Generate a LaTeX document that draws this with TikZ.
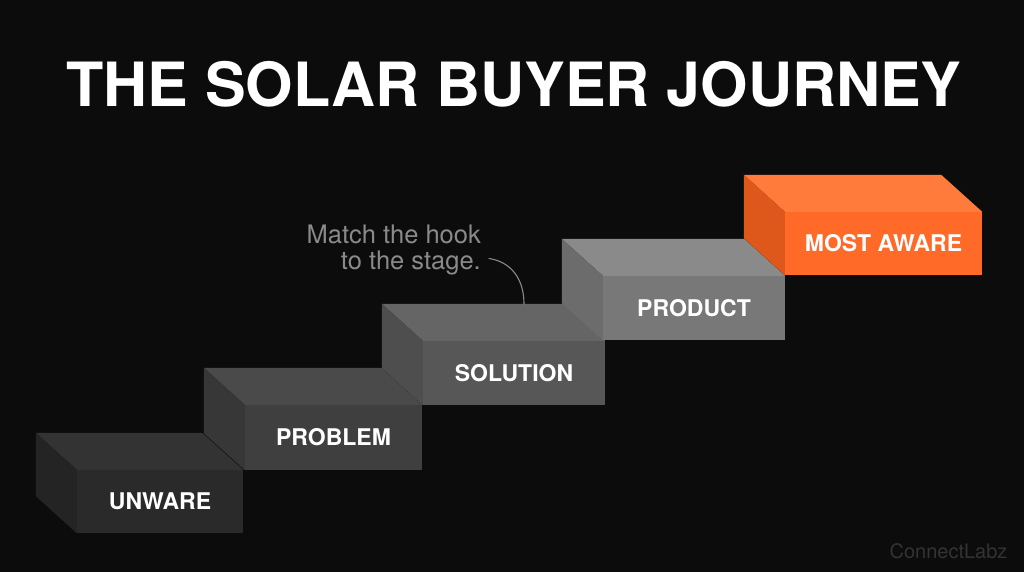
\documentclass[tikz,border=0pt]{standalone}
\usepackage{fontspec}
\setmainfont{TeX Gyre Heros}
\usetikzlibrary{calc}
\definecolor{bg}{HTML}{0C0C0C}
\definecolor{f1}{HTML}{2A2A2A}\definecolor{t1}{HTML}{333333}\definecolor{s1}{HTML}{242424}
\definecolor{f2}{HTML}{3F3F3F}\definecolor{t2}{HTML}{4A4A4A}\definecolor{s2}{HTML}{373737}
\definecolor{f3}{HTML}{575757}\definecolor{t3}{HTML}{656565}\definecolor{s3}{HTML}{4E4E4E}
\definecolor{f4}{HTML}{787878}\definecolor{t4}{HTML}{8A8A8A}\definecolor{s4}{HTML}{6C6C6C}
\definecolor{f5}{HTML}{FF6A28}\definecolor{t5}{HTML}{FF7B3C}\definecolor{s5}{HTML}{DE581C}
\definecolor{notec}{HTML}{8A8A8A}
\definecolor{markc}{HTML}{333333}
\tikzset{
  face/.style={inner sep=0pt, draw=none, text=white,
    font=\fontsize{23}{23}\selectfont\bfseries},
  notetext/.style={inner sep=0pt, anchor=base east, text=notec,
    font=\fontsize{25.5}{25.5}\selectfont},
  hookline/.style={draw=notec, line width=1.1pt, line cap=round},
}
% #1 node name, #2 top colour, #3 side colour
\newcommand{\stepfaces}[3]{%
  \fill[#2] (#1.north west) -- ++(-41,-37) -- ($(#1.north east)+(-41,-37)$) -- (#1.north east) -- cycle;
  \fill[#3] (#1.north west) -- ++(-41,-37) -- ($(#1.south west)+(-41,-37)$) -- (#1.south west) -- cycle;
}
\begin{document}
\begin{tikzpicture}[x=1pt,y=-1pt]
\fill[bg] (0,0) rectangle (1024,572);
\useasboundingbox (0,0) rectangle (1024,572);

\node[anchor=base, text=white, inner sep=0pt,
  font=\fontsize{61}{61}\selectfont\bfseries] (title) at (514,107) {THE SOLAR BUYER JOURNEY};

% step 1
\node[face, fill=f1, minimum width=166pt, minimum height=63pt] (b1) at (160,501.5) {\raisebox{-2pt}{UNWARE}};
\stepfaces{b1}{t1}{s1}
% step 2
\node[face, fill=f2, minimum width=177pt, minimum height=65pt] (b2) at (333.5,437.5) {\raisebox{-2pt}{PROBLEM}};
\stepfaces{b2}{t2}{s2}
% step 3
\node[face, fill=f3, minimum width=182pt, minimum height=64pt] (b3) at (514,373) {\raisebox{-2pt}{SOLUTION}};
\stepfaces{b3}{t3}{s3}
% step 4
\node[face, fill=f4, minimum width=182pt, minimum height=64pt] (b4) at (694,308) {\raisebox{-2pt}{PRODUCT}};
\stepfaces{b4}{t4}{s4}
% step 5
\node[face, fill=f5, minimum width=197pt, minimum height=63pt] (b5) at (883.5,243.5) {\raisebox{-2pt}{MOST AWARE}};
\stepfaces{b5}{t5}{s5}

% annotation
\node[notetext] (note1) at (481,243) {Match the hook};
\node[notetext] (note2) at (481,269) {to the stage.};
\coordinate (hookend) at (524,304);
\draw[hookline] ([shift={(8,-4)}]note2.east) .. controls (512,262) and (524,280) .. (hookend);

% watermark
\node[anchor=base, inner sep=0pt, text=markc, font=\fontsize{20}{20}\selectfont] (mark) at (948.5,558) {ConnectLabz};
\end{tikzpicture}
\end{document}
